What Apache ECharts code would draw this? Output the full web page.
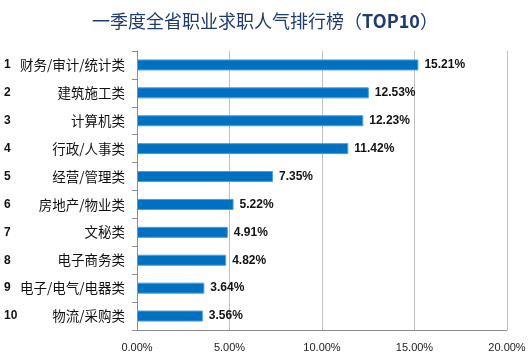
<!DOCTYPE html>
<html><head><meta charset="utf-8">
<script src="https://cdn.jsdelivr.net/npm/echarts@6/dist/echarts.min.js"></script>
<style>html,body{margin:0;padding:0;background:#fff}#c{width:530px;height:360px}</style>
</head><body><div id="c"></div>
<script>
var titleMain = '一季度全省职业求职人气排行榜';
var titleTag = 'TOP10';
var ranks = ['1','2','3','4','5','6','7','8','9','10'];
var categories = ['财务/审计/统计类','建筑施工类','计算机类','行政/人事类','经营/管理类','房地产/物业类','文秘类','电子商务类','电子/电气/电器类','物流/采购类'];
var values = [15.21, 12.53, 12.23, 11.42, 7.35, 5.22, 4.91, 4.82, 3.64, 3.56];
var xTicks = [0, 5, 10, 15, 20];

var chart = echarts.init(document.getElementById('c'));
chart.setOption({
  animation: false,
  title: {
    text: '{a|' + titleMain + '（}{b|' + titleTag + '}{a|）}', left: 'center', top: 7,
    textStyle: {
      rich: {
        a: {fontFamily: 'Noto Sans CJK SC', fontSize: 18, fontWeight: 'normal', color: '#1F3C6E'},
        b: {fontFamily: 'Noto Sans CJK SC', fontSize: 18, fontWeight: 'bold', color: '#1F3C6E'}
      }
    }
  },
  grid: {left: 137, right: 23, top: 51, bottom: 30},
  xAxis: {
    type: 'value', min: xTicks[0], max: xTicks[xTicks.length-1], interval: 5,
    axisLine: {show: true, lineStyle: {color: '#8C8C8C'}},
    axisTick: {show: false},
    splitLine: {lineStyle: {color: '#BFBFBF'}},
    axisLabel: {margin: 12, color: '#222', fontFamily: 'Liberation Sans', fontSize: 11,
      formatter: function(v){ return v.toFixed(2) + '%'; }}
  },
  yAxis: {
    type: 'category', inverse: true,
    data: categories.map(function(c, i){ return ranks[i] + '|' + c; }),
    axisLine: {lineStyle: {color: '#8C8C8C'}},
    axisTick: {show: true, length: 5, lineStyle: {color: '#8C8C8C'}},
    axisLabel: {
      margin: 12,
      formatter: function(v){ var p = v.split('|'); return '{n|' + p[0] + '}{t|' + p[1] + '}'; },
      rich: {
        n: {width: 15, align: 'left', fontFamily: 'Liberation Sans', fontWeight: 'bold', fontSize: 12, color: '#111'},
        t: {width: 106, align: 'right', fontFamily: 'Noto Sans CJK SC', fontSize: 13.5, color: '#111'}
      }
    }
  },
  series: [{
    type: 'bar', data: values, barWidth: 11,
    itemStyle: {color: '#0070C0', borderColor: '#4E9DDB', borderWidth: 1},
    label: {show: true, position: 'right', distance: 6, color: '#111',
      fontFamily: 'Liberation Sans', fontWeight: 'bold', fontSize: 12,
      formatter: function(p){ return p.value.toFixed(2) + '%'; }}
  }]
});
</script></body></html>
